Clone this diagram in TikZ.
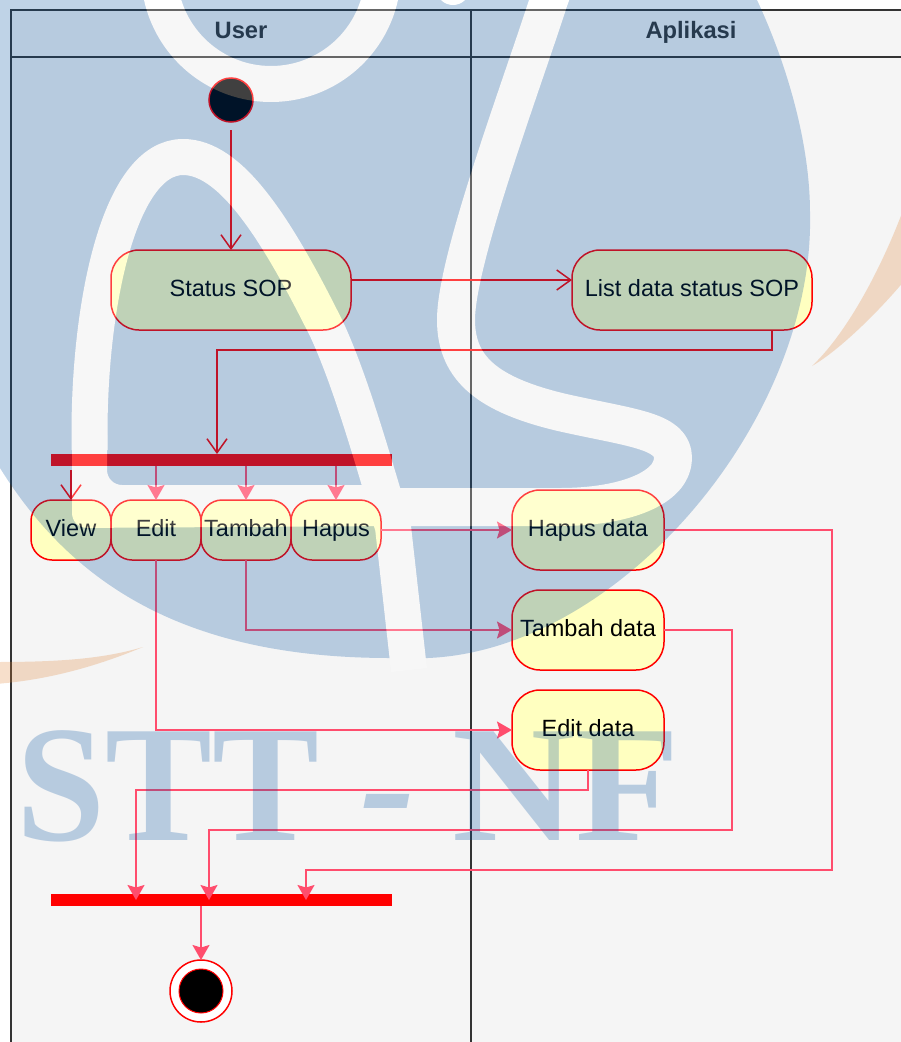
\documentclass[tikz,border=0pt]{standalone}
\usepackage{xcolor}
\usepackage{fontspec}
\usepackage{tikz}
\usetikzlibrary{arrows.meta, positioning}
\setmainfont{Liberation Sans}
\newfontfamily\markfont{Liberation Serif}
\definecolor{lanegray}{RGB}{245, 245, 245}
\definecolor{laneline}{RGB}{51, 51, 51}
\definecolor{actfill}{RGB}{255, 255, 192}
\definecolor{linkpink}{RGB}{255, 77, 109}
\definecolor{markblue}{RGB}{0, 79, 160}
\definecolor{markorange}{RGB}{224, 128, 48}
\tikzset{
    lane/.style = {rectangle, draw=laneline, fill=lanegray, line width=1.2pt, inner sep=0pt, outer sep=0pt},
    lanetitle/.style = {lane, minimum height=47pt, font=\fontsize{23.7}{26}\selectfont\bfseries, text=laneline, text height=17pt, text depth=7pt},
    act/.style = {rectangle, draw=red, fill=actfill, line width=1.5pt, inner sep=0pt, outer sep=0pt, align=center, font=\fontsize{23.5}{26}\selectfont, text height=17.5pt, text depth=4pt},
    bigact/.style = {act, minimum width=240pt, minimum height=80pt, rounded corners=28pt},
    dataact/.style = {act, minimum width=152pt, minimum height=80pt, rounded corners=28pt},
    smallact/.style = {act, minimum height=60pt, rounded corners=21pt},
    syncbar/.style = {rectangle, fill=red, inner sep=0pt, outer sep=0pt, minimum width=341pt, minimum height=12pt},
    redarrow/.style = {draw=red, line width=1.5pt, -{Straight Barb[length=14pt,width=20pt,line width=1.5pt]}},
    pinkarrow/.style = {draw=linkpink, line width=1.5pt, -{Stealth[length=15pt,width=17pt,inset=2.5pt]}},
    markband/.style = {draw=white, line width=36pt, line join=round},
    marktext/.style = {anchor=base, inner sep=0pt, text=markblue, transform shape, font=\fontsize{166}{170}\selectfont\markfont\bfseries}
}
\begin{document}
\begin{tikzpicture}[x=1pt, y=-1pt, node distance=20pt and 0pt]
\useasboundingbox (0,0) rectangle (901,1042);
% Lanes
\node (usertitle) [lanetitle, minimum width=460pt] at (241,33.5) {User};
\node (appstitle) [lanetitle, minimum width=440pt, right=0pt of usertitle] {Aplikasi};
\node (userlane) [lane, minimum width=460pt, below=0pt of usertitle, minimum height=1000pt] {};
\node (appslane) [lane, minimum width=440pt, below=0pt of appstitle, minimum height=1000pt] {};

% Nodes
\node (start) [circle, draw=red, fill=black, line width=1.5pt, minimum size=44pt, inner sep=0pt, outer sep=0pt] at (231,100) {};
\node (status) [bigact] at (231,290) {Status SOP};
\node (listdata) [bigact] at (692,290) {List data status SOP};
\node (forkbar) [syncbar] at (221,460) {};
\node (view) [smallact, minimum width=80pt] at (71,530) {View};
\node (editact) [smallact, minimum width=90pt, right=0pt of view] {Edit};
\node (addact) [smallact, minimum width=90pt, right=0pt of editact] {Tambah};
\node (delact) [smallact, minimum width=90pt, right=0pt of addact] {Hapus};
\node (deldata) [dataact] at (588,530) {Hapus data};
\node (adddata) [dataact, below=of deldata] {Tambah data};
\node (editdata) [dataact, below=of adddata] {Edit data};
\node (mergebar) [syncbar] at (221,900) {};
\node (finish) [circle, draw=red, fill=white, line width=1.5pt, minimum size=62pt, inner sep=0pt, outer sep=0pt] at (201,991) {};
\node (finishcore) [circle, draw=red, fill=black, line width=1pt, minimum size=44pt, inner sep=0pt] at (finish.center) {};

% Arrows
\draw [redarrow] ([yshift=-8pt]start.south) -- (status.north);
\draw [redarrow] ([yshift=10pt]status.east) -- ([yshift=10pt]listdata.west);
\draw [redarrow] ([xshift=80pt]listdata.south) -- (772,350) -- (217,350) -- ([xshift=-4pt]forkbar.north);
\draw [redarrow] ([yshift=-4pt]view |- forkbar.south) -- (view.north);
\draw [pinkarrow] (editact |- forkbar.south) -- (editact.north);
\draw [pinkarrow] (addact |- forkbar.south) -- (addact.north);
\draw [pinkarrow] (delact |- forkbar.south) -- (delact.north);
\draw [pinkarrow] (delact.east) -- (deldata.west);
\draw [pinkarrow] (addact.south) |- (adddata.west);
\draw [pinkarrow] (editact.south) |- (editdata.west);
\draw [pinkarrow] (deldata.east) -- (832,530) -- (832,870) -- (306,870) -- ([xshift=85pt]mergebar.center);
\draw [pinkarrow] (adddata.east) -- (732,630) -- (732,830) -- (209,830) -- ([xshift=-12pt]mergebar.center);
\draw [pinkarrow] (editdata.south) -- (588,790) -- (136,790) -- ([xshift=-85pt]mergebar.center);
\draw [pinkarrow] (finish |- mergebar.south) -- (finish.north);

% Watermark
\begin{scope}[transparency group, opacity=0.25]
\fill [markblue] (-30,-30) -- (-30,430) -- (0,468) .. controls (70,580) and (180,658) .. (390,658) -- (428,658) .. controls (620,650) and (815,420) .. (810,213) .. controls (810,140) and (785,60) .. (757,0) -- (740,-30) -- cycle;
\draw [markband] (271,-28) circle (112);
\fill [white] (453,-12) circle (17);
\draw [markband] (89.5,450) -- (89.5,430) .. controls (90,300) and (120,157) .. (183,157) .. controls (230,157) and (275,225) .. (327,330) .. controls (350,380) and (370,450) .. (393,527) -- (409,670);
\draw [markband, line width=38pt] (560,-30) -- (549,0) .. controls (520,90) and (456,260) .. (456,320) .. controls (456,370) and (490,395) .. (560,412) .. controls (630,428) and (673,430) .. (673,458) .. controls (673,488) and (625,507) .. (560,507) -- (395,507);
\fill [white, rounded corners=15pt] (72,420) -- (72,528) -- (395,526) -- (395,485) -- (107,485) -- (107,420) -- cycle;
\fill [markorange] (812,366) .. controls (850,330) and (885,260) .. (905,205) -- (905,280) .. controls (880,310) and (840,350) .. cycle;
\fill [markorange] (143,647) .. controls (100,660) and (50,662) .. (-5,662) -- (-5,684) .. controls (50,680) and (100,665) .. cycle;
\node (markstt) [marktext, xscale=0.965] at (168,840) {STT};
\node (markdash) [marktext] at (388,840) {\textit{-}};
\node (marknf) [marktext, xscale=1.03] at (566,840) {NF};
\end{scope}
\end{tikzpicture}
\end{document}
